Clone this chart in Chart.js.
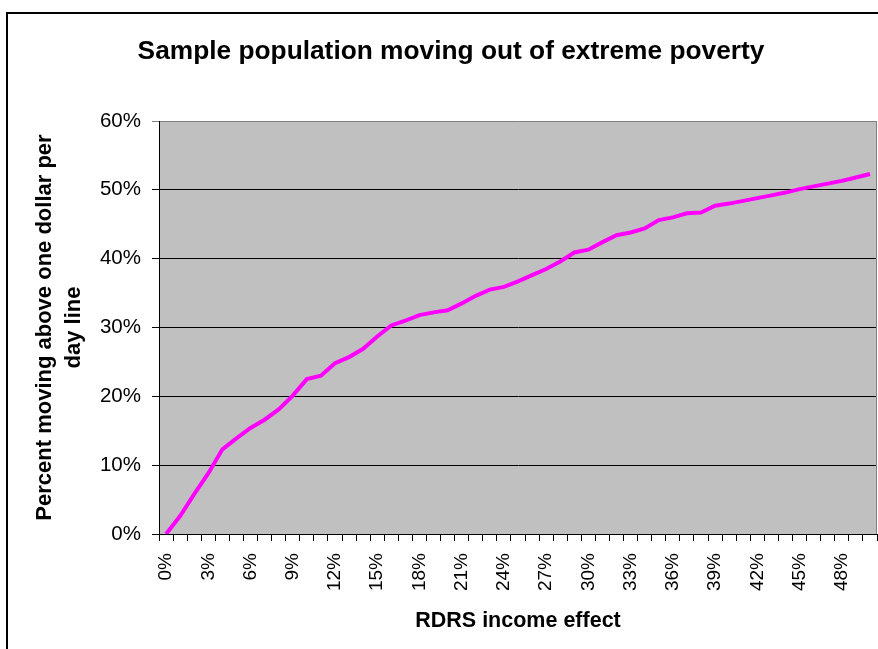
<!DOCTYPE html>
<html>
<head>
<meta charset="utf-8">
<title>Sample population moving out of extreme poverty</title>
<script src="https://cdn.jsdelivr.net/npm/chart.js@4.4.1/dist/chart.umd.min.js"></script>
<style>
  html, body { margin: 0; padding: 0; background: #fff; }
  canvas { display: block; }
</style>
</head>
<body>
<canvas id="povertyChart" width="878" height="649"></canvas>
<script>
// income effect steps, 0% .. 50%
const incomeEffect = [];
for (let i = 0; i <= 50; i++) incomeEffect.push(i + '%');

// share of the sample that ends up above the $1/day line (%)
const percentAbove = [
    0, 2.6, 5.8, 8.8, 12.3, 13.9, 15.4, 16.6, 18.1, 20.1,
    22.5, 23.0, 24.8, 25.7, 26.9, 28.7, 30.3, 31.0, 31.8, 32.2,
    32.5, 33.5, 34.6, 35.5, 35.9, 36.7, 37.6, 38.5, 39.6, 40.9,
    41.3, 42.4, 43.4, 43.8, 44.4, 45.6, 46.0, 46.6, 46.7, 47.7,
    48.0, 48.4, 48.8, 49.2, 49.6, 50.1, 50.5, 50.9, 51.3, 51.8,
    52.3
];

const yTicks = [0, 10, 20, 30, 40, 50, 60];
const labelEvery = 3;

const chartTitle = 'Sample population moving out of extreme poverty';
const FONT = '"Liberation Sans", Arial, sans-serif';

// grey plot area, outer frame and the big title
const excelLook = {
    id: 'excelLook',
    beforeDraw(chart) {
        const { ctx, chartArea: a } = chart;
        ctx.save();
        ctx.fillStyle = '#fff';
        ctx.fillRect(0, 0, chart.width, chart.height);
        ctx.fillStyle = '#C0C0C0';
        ctx.fillRect(a.left, a.top, a.right - a.left, a.bottom - a.top);
        ctx.restore();
    },
    afterDraw(chart) {
        const { ctx, chartArea: a } = chart;
        ctx.save();
        // right edge of plot area
        ctx.strokeStyle = '#808080';
        ctx.lineWidth = 1;
        ctx.beginPath();
        ctx.moveTo(a.right - 0.5, a.top);
        ctx.lineTo(a.right - 0.5, a.bottom);
        ctx.stroke();
        // chart frame
        ctx.strokeStyle = '#000';
        ctx.lineWidth = 2;
        ctx.strokeRect(7, 13, 900, 700);
        // title
        ctx.fillStyle = '#000';
        ctx.font = 'bold 26.3px ' + FONT;
        ctx.textAlign = 'center';
        ctx.textBaseline = 'middle';
        ctx.fillText(chartTitle, 451, 52);
        ctx.restore();
    }
};

new Chart(document.getElementById('povertyChart'), {
    type: 'line',
    data: {
        labels: incomeEffect,
        datasets: [{
            data: percentAbove,
            borderColor: '#FF00FF',
            borderWidth: 4,
            pointRadius: 0,
            tension: 0,
            fill: false
        }]
    },
    options: {
        responsive: false,
        animation: false,
        layout: { padding: { top: 121, left: 0, right: 1, bottom: 0 } },
        plugins: {
            legend: { display: false },
            tooltip: { enabled: false }
        },
        scales: {
            x: {
                offset: true,
                afterFit(scale) {
                    scale.height = 115;
                    scale.paddingLeft = 0;
                    scale.paddingRight = 0;
                },
                grid: {
                    offset: true,
                    drawOnChartArea: false,
                    color: '#000',
                    tickLength: 7
                },
                border: { color: '#000', width: 1 },
                ticks: {
                    autoSkip: false,
                    minRotation: 90,
                    maxRotation: 90,
                    padding: 12,
                    color: '#000',
                    font: { family: FONT, size: 19 },
                    callback(value, index) {
                        return index % labelEvery === 0 ? incomeEffect[index] : '';
                    }
                },
                title: {
                    display: true,
                    text: 'RDRS income effect',
                    color: '#000',
                    font: { family: FONT, size: 21.5, weight: 'bold' },
                    padding: { top: 0, bottom: 15 }
                }
            },
            y: {
                min: yTicks[0],
                max: yTicks[yTicks.length - 1],
                afterFit(scale) { scale.width = 159; },
                afterBuildTicks(scale) {
                    scale.ticks = yTicks.map(v => ({ value: v }));
                },
                grid: {
                    color: ctx => (ctx.tick && ctx.tick.value === 60 ? '#808080' : '#000'),
                    tickLength: 7
                },
                border: { color: '#000', width: 1 },
                ticks: {
                    padding: 11,
                    color: '#000',
                    font: { family: FONT, size: 20.5 },
                    callback: v => v + '%'
                },
                title: {
                    display: true,
                    text: ['Percent moving above one dollar per', 'day line'],
                    color: '#000',
                    font: { family: FONT, size: 22, weight: 'bold', lineHeight: 1.3 },
                    padding: { top: 31, bottom: 0 }
                }
            }
        }
    },
    plugins: [excelLook]
});
</script>
</body>
</html>
